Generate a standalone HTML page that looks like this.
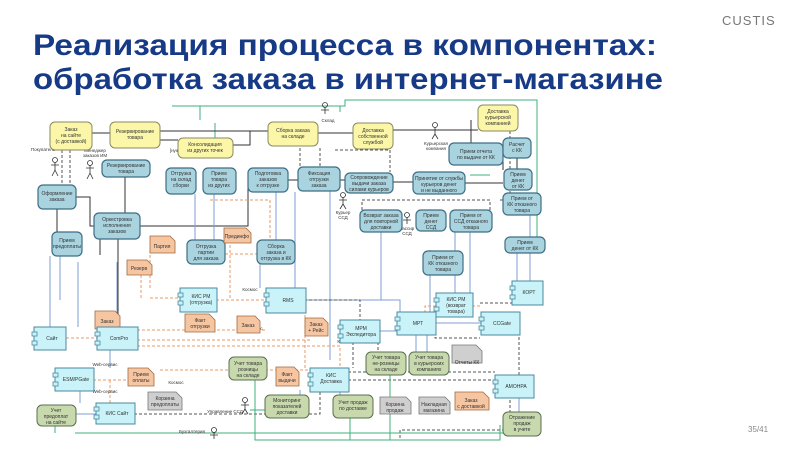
<!DOCTYPE html>
<html><head><meta charset="utf-8"><style>
html,body{margin:0;padding:0;background:#fff;width:800px;height:450px;overflow:hidden}
svg{display:block}
text{font-family:"Liberation Sans",sans-serif}
.t{font-size:5px;fill:#333;text-anchor:middle}
.y{fill:#fbf6a8;stroke:#8a8a60;stroke-width:1}
.b{fill:#a9d3df;stroke:#3f6f85;stroke-width:1.2}
.c{fill:#c9f3f8;stroke:#4a8aa0;stroke-width:1}
.g{fill:#c8d9ae;stroke:#5a7050;stroke-width:1}
.do{fill:#f6c6a2;stroke:#a06a40;stroke-width:.8}
.dg{fill:#cfcfcf;stroke:#777;stroke-width:.8}
.k{stroke:#333;stroke-width:1;fill:none}
.kd{stroke:#555;stroke-width:1;fill:none;stroke-dasharray:3 2}
.bl{stroke:#7f9fd6;stroke-width:1;fill:none}
.od{stroke:#ea9a66;stroke-width:1;fill:none;stroke-dasharray:3 2}
.gr{stroke:#3fb27a;stroke-width:1;fill:none}
</style></head><body>
<svg width="800" height="450" viewBox="0 0 800 450" xmlns="http://www.w3.org/2000/svg">
<text x="722" y="25" style="font-size:13px;fill:#777;letter-spacing:1px">CUSTIS</text>
<text x="33" y="55" textLength="624" lengthAdjust="spacingAndGlyphs" style="font-size:30px;font-weight:bold;fill:#173a86">Реализация процесса в компонентах:</text>
<text x="33" y="89" textLength="630" lengthAdjust="spacingAndGlyphs" style="font-size:30px;font-weight:bold;fill:#173a86">обработка заказа в интернет-магазине</text>
<text x="748" y="432" style="font-size:8px;fill:#888">35/41</text>

<!-- connectors -->
<g>
<path class="gr" d="M172 106 H345 V100 H537 V240"/>
<path class="gr" d="M200 120 V106 M340 112 V106 M215 123 V138"/>
<path class="k" d="M92 133 H110 M160 131 H268 M160 140 H178 M233 145 H250 V131 H268 M318 133 H353 M393 130 H478"/>
<path class="k" d="M76 197 H90 V226 H94 M140 226 H248 V180 M125 176 V213 M288 180 H298 M338 180 H345 M393 182 H413 M503 154 V170 M517 158 V170 M471 143 V120 M465 183 H503"/>
<path class="kd" d="M62 150 V185 M70 150 V200 M320 148 V173 M300 148 V190 M335 150 H390 V172 M500 200 H520 M510 131 V193 M362 210 V200 H490 V210"/>
<path class="k" d="M57 209 V232 M100 239 V255 M118 239 V330"/>
<path class="bl" d="M50 256 V327 M60 256 V300 M78 262 V327 M117 262 V327 M260 262 V288 M195 194 V240 M214 194 V240 M276 192 V240 M295 192 V288 M330 190 V360 M305 300 H400 V312 M378 331 H397 M435 323 H481 M416 334 V352 M427 334 V352 M381 232 V300 M455 232 V300 M470 232 V295 M517 253 V283 M530 215 V283 M110 350 V368 M80 390 V403 M75 414 H96 M519 397 V413 M340 390 V395 M300 390 V405 M430 250 V312"/>
<path class="od" d="M66 338 H97 M137 330 H266 M137 340 H310 M137 346 H340 V368 M150 250 V288 M141 270 V300 M230 240 V300 M210 200 H270 V240 M200 254 H257 M93 380 H128 M110 380 V403 M216 300 H266 M150 298 H180 M305 310 V368 M472 306 H481 M436 306 H425 V312 M160 370 H310"/>
<path class="kd" d="M134 414 H320 V390 M304 300 H360 V320 M348 380 H495 M348 372 H495 M435 322 V338 H480 M519 322 V375 M480 303 H512 M510 390 V430 H400 V440 M353 342 V368 M378 342 V360"/>
<path class="gr" d="M75 433 H520 V425 M55 425 V433 M255 380 V440 H500 V425 M390 374 V440 M350 417 V440 M265 410 H250 M470 175 H490"/>
</g>

<!-- actors -->
<g stroke="#333" fill="none" stroke-width=".8">
<circle cx="55" cy="160" r="2.5"/><path d="M55 162 V170 M51 165 H59 M55 170 L52 176 M55 170 L58 176"/>
<circle cx="90" cy="163" r="2.5"/><path d="M90 165 V173 M86 168 H94 M90 173 L87 179 M90 173 L93 179"/>
<circle cx="325" cy="105" r="2.5"/><path d="M325 107 V114 M321 110 H329"/>
<circle cx="435" cy="125" r="2.5"/><path d="M435 127 V134 M431 130 H439 M435 134 L432 139 M435 134 L438 139"/>
<circle cx="343" cy="195" r="2.5"/><path d="M343 197 V204 M339 200 H347 M343 204 L340 209 M343 204 L346 209"/>
<circle cx="407" cy="215" r="2.5"/><path d="M407 217 V224 M403 220 H411"/>
<circle cx="245" cy="400" r="2.5"/><path d="M245 402 V409 M241 405 H249 M245 409 L242 414 M245 409 L248 414"/>
<circle cx="214" cy="430" r="2.5"/><path d="M214 432 V439 M210 435 H218"/>
</g>
<g class="t" style="font-size:4.5px">
<text x="43" y="151">Покупатель</text><text x="95" y="152">Менеджер</text><text x="95" y="157">заказов ИМ</text>
<text x="200" y="152">[нужен товар из других мест]</text>
<text x="328" y="122">Склад</text><text x="436" y="145">Курьерская</text><text x="436" y="150">компания</text>
<text x="343" y="214">Курьер</text><text x="343" y="219">ССД</text><text x="407" y="230">Кассир</text><text x="407" y="235">ССД</text>
<text x="225" y="413">Управление ССД</text><text x="192" y="433">Бухгалтерия</text>
<text x="250" y="291">Космос</text><text x="255" y="330">Космос</text><text x="176" y="384">Космос</text><text x="105" y="366">Web-сервис</text><text x="105" y="393">Web-сервис</text><text x="345" y="343">Космос</text>
</g>

<!-- yellow -->
<rect class="y" x="50" y="122" width="42" height="28" rx="5"/><text class="t" x="71" y="131">Заказ<tspan x="71" dy="6">на сайте</tspan><tspan x="71" dy="6">(с доставкой)</tspan></text>
<rect class="y" x="110" y="122" width="50" height="26" rx="5"/><text class="t" x="135" y="133">Резервирование<tspan x="135" dy="6">товара</tspan></text>
<rect class="y" x="178" y="138" width="55" height="20" rx="5"/><text class="t" x="205" y="146">Консолидация<tspan x="205" dy="6">из других точек</tspan></text>
<rect class="y" x="268" y="122" width="50" height="24" rx="5"/><text class="t" x="293" y="132">Сборка заказа<tspan x="293" dy="6">на складе</tspan></text>
<rect class="y" x="353" y="123" width="40" height="26" rx="5"/><text class="t" x="373" y="132">Доставка<tspan x="373" dy="6">собственной</tspan><tspan x="373" dy="6">службой</tspan></text>
<rect class="y" x="478" y="105" width="40" height="26" rx="5"/><text class="t" x="498" y="113">Доставка<tspan x="498" dy="6">курьерской</tspan><tspan x="498" dy="6">компанией</tspan></text>

<!-- blue processes -->
<g>
<rect class="b" x="102" y="160" width="48" height="17" rx="5"/><text class="t" x="126" y="167">Резервирование<tspan x="126" dy="6">товара</tspan></text>
<rect class="b" x="38" y="185" width="38" height="24" rx="5"/><text class="t" x="57" y="195">Оформление<tspan x="57" dy="6">заказа</tspan></text>
<rect class="b" x="166" y="168" width="30" height="26" rx="5"/><text class="t" x="181" y="175">Отгрузка<tspan x="181" dy="6">на склад</tspan><tspan x="181" dy="6">сборки</tspan></text>
<rect class="b" x="203" y="168" width="33" height="26" rx="5"/><text class="t" x="219" y="175">Прием<tspan x="219" dy="6">товара</tspan><tspan x="219" dy="6">из других</tspan></text>
<rect class="b" x="248" y="168" width="40" height="24" rx="5"/><text class="t" x="268" y="175">Подготовка<tspan x="268" dy="6">заказов</tspan><tspan x="268" dy="6">к отгрузке</tspan></text>
<rect class="b" x="298" y="167" width="42" height="24" rx="5"/><text class="t" x="319" y="175">Фиксация<tspan x="319" dy="6">отгрузки</tspan><tspan x="319" dy="6">заказа</tspan></text>
<rect class="b" x="345" y="173" width="48" height="20" rx="5"/><text class="t" x="369" y="179">Сопровождение<tspan x="369" dy="6">выдачи заказа</tspan><tspan x="369" dy="6">силами курьеров</tspan></text>
<rect class="b" x="413" y="172" width="52" height="22" rx="5"/><text class="t" x="439" y="180">Принятие от службы<tspan x="439" dy="6">курьеров денег</tspan><tspan x="439" dy="6">и не выданного</tspan></text>
<rect class="b" x="449" y="143" width="54" height="22" rx="5"/><text class="t" x="476" y="153">Прием отчета<tspan x="476" dy="6">по выдаче от КК</tspan></text>
<rect class="b" x="503" y="138" width="28" height="20" rx="5"/><text class="t" x="517" y="146">Расчет<tspan x="517" dy="6">с КК</tspan></text>
<rect class="b" x="504" y="169" width="28" height="21" rx="5"/><text class="t" x="518" y="176">Прием<tspan x="518" dy="6">денег</tspan><tspan x="518" dy="6">от КК</tspan></text>
<rect class="b" x="503" y="193" width="38" height="22" rx="5"/><text class="t" x="522" y="200">Прием от<tspan x="522" dy="6">КК отказного</tspan><tspan x="522" dy="6">товара</tspan></text>
<rect class="b" x="94" y="213" width="46" height="26" rx="5"/><text class="t" x="117" y="221">Оркестровка<tspan x="117" dy="6">исполнения</tspan><tspan x="117" dy="6">заказов</tspan></text>
<rect class="b" x="52" y="232" width="30" height="24" rx="5"/><text class="t" x="67" y="242">Прием<tspan x="67" dy="6">предоплаты</tspan></text>
<rect class="b" x="360" y="210" width="42" height="22" rx="5"/><text class="t" x="381" y="217">Возврат заказа<tspan x="381" dy="6">для повторной</tspan><tspan x="381" dy="6">доставки</tspan></text>
<rect class="b" x="416" y="210" width="30" height="21" rx="5"/><text class="t" x="431" y="217">Прием<tspan x="431" dy="6">денег</tspan><tspan x="431" dy="6">ССД</tspan></text>
<rect class="b" x="450" y="210" width="42" height="22" rx="5"/><text class="t" x="471" y="217">Прием от<tspan x="471" dy="6">ССД отказного</tspan><tspan x="471" dy="6">товара</tspan></text>
<rect class="b" x="187" y="240" width="38" height="24" rx="5"/><text class="t" x="206" y="248">Отгрузка<tspan x="206" dy="6">партии</tspan><tspan x="206" dy="6">для заказа</tspan></text>
<rect class="b" x="257" y="240" width="38" height="24" rx="5"/><text class="t" x="276" y="248">Сборка<tspan x="276" dy="6">заказа и</tspan><tspan x="276" dy="6">отгрузка в КК</tspan></text>
<rect class="b" x="505" y="237" width="40" height="16" rx="5"/><text class="t" x="525" y="244">Прием<tspan x="525" dy="6">денег от КК</tspan></text>
<rect class="b" x="423" y="251" width="40" height="24" rx="5"/><text class="t" x="443" y="259">Прием от<tspan x="443" dy="6">КК отказного</tspan><tspan x="443" dy="6">товара</tspan></text>
</g>

<!-- documents -->
<g>
<path class="do" d="M150 236 h20 l5 5 v12 h-25z"/><text class="t" x="162" y="248">Партия</text>
<path class="do" d="M127 260 h20 l5 5 v10 h-25z"/><text class="t" x="139" y="270">Резерв</text>
<path class="do" d="M224 228 h22 l5 5 v10 h-27z"/><text class="t" x="237" y="238">Прединфо</text>
<path class="do" d="M95 311 h20 l5 5 v13 h-25z"/><text class="t" x="107" y="323">Заказ</text>
<path class="do" d="M185 314 h24 l6 6 v12 h-30z"/><text class="t" x="200" y="322">Факт<tspan x="200" dy="6">отгрузки</tspan></text>
<path class="do" d="M237 316 h18 l5 5 v12 h-23z"/><text class="t" x="248" y="327">Заказ</text>
<path class="do" d="M305 318 h18 l5 5 v13 h-23z"/><text class="t" x="316" y="326">Заказ<tspan x="316" dy="6">+ Рейс</tspan></text>
<path class="do" d="M276 367 h18 l5 5 v14 h-23z"/><text class="t" x="287" y="376">Факт<tspan x="287" dy="6">выдачи</tspan></text>
<path class="do" d="M128 368 h20 l6 6 v12 h-26z"/><text class="t" x="141" y="376">Прием<tspan x="141" dy="6">оплаты</tspan></text>
<path class="do" d="M455 392 h28 l6 6 v12 h-34z"/><text class="t" x="471" y="402">Заказ<tspan x="471" dy="6">с доставкой</tspan></text>
<path class="dg" d="M148 392 h28 l6 6 v12 h-34z"/><text class="t" x="165" y="400">Корзина<tspan x="165" dy="6">предоплаты</tspan></text>
<path class="dg" d="M380 397 h26 l5 5 v12 h-31z"/><text class="t" x="395" y="406">Корзина<tspan x="395" dy="6">продаж</tspan></text>
<path class="dg" d="M419 397 h26 l5 5 v12 h-31z"/><text class="t" x="434" y="406">Накладная<tspan x="434" dy="6">магазина</tspan></text>
<path class="dg" d="M452 345 h24 l6 6 v12 h-30z"/><text class="t" x="467" y="364">Отчеты КК</text>
</g>

<!-- components -->
<g>
<rect class="c" x="180" y="288" width="37" height="24"/><text class="t" x="201" y="298">КИС РМ<tspan x="201" dy="6">(отгрузка)</tspan></text>
<rect class="c" x="266" y="288" width="40" height="25"/><text class="t" x="288" y="302">RMS</text>
<rect class="c" x="34" y="327" width="32" height="23"/><text class="t" x="52" y="340">Сайт</text>
<rect class="c" x="97" y="327" width="41" height="23"/><text class="t" x="119" y="340">ComPro</text>
<rect class="c" x="55" y="368" width="39" height="23"/><text class="t" x="76" y="381">ESM/PGate</text>
<rect class="c" x="96" y="403" width="39" height="21"/><text class="t" x="117" y="415">КИС Сайт</text>
<rect class="c" x="340" y="320" width="40" height="23"/><text class="t" x="361" y="330">МРМ<tspan x="361" dy="6">Экспедитора</tspan></text>
<rect class="c" x="397" y="312" width="39" height="23"/><text class="t" x="418" y="325">МРТ</text>
<rect class="c" x="436" y="293" width="37" height="24"/><text class="t" x="456" y="301">КИС РМ<tspan x="456" dy="6">(возврат</tspan><tspan x="456" dy="6">товара)</tspan></text>
<rect class="c" x="481" y="312" width="39" height="23"/><text class="t" x="502" y="325">CCGate</text>
<rect class="c" x="512" y="281" width="31" height="24"/><text class="t" x="529" y="294">КОРТ</text>
<rect class="c" x="310" y="368" width="39" height="24"/><text class="t" x="331" y="377">КИС<tspan x="331" dy="6">Доставка</tspan></text>
<rect class="c" x="495" y="375" width="39" height="23"/><text class="t" x="516" y="388">АМОНРА</text>
</g>
<g fill="#c9f3f8" stroke="#4a8aa0" stroke-width=".8">
<rect x="178" y="293" width="5" height="4"/><rect x="178" y="301" width="5" height="4"/>
<rect x="264" y="293" width="5" height="4"/><rect x="264" y="302" width="5" height="4"/>
<rect x="32" y="332" width="5" height="4"/><rect x="32" y="341" width="5" height="4"/>
<rect x="95" y="332" width="5" height="4"/><rect x="95" y="341" width="5" height="4"/>
<rect x="53" y="373" width="5" height="4"/><rect x="53" y="382" width="5" height="4"/>
<rect x="94" y="407" width="5" height="4"/><rect x="94" y="415" width="5" height="4"/>
<rect x="338" y="325" width="5" height="4"/><rect x="338" y="334" width="5" height="4"/>
<rect x="395" y="317" width="5" height="4"/><rect x="395" y="326" width="5" height="4"/>
<rect x="434" y="298" width="5" height="4"/><rect x="434" y="307" width="5" height="4"/>
<rect x="479" y="317" width="5" height="4"/><rect x="479" y="326" width="5" height="4"/>
<rect x="510" y="286" width="5" height="4"/><rect x="510" y="295" width="5" height="4"/>
<rect x="308" y="373" width="5" height="4"/><rect x="308" y="382" width="5" height="4"/>
<rect x="493" y="380" width="5" height="4"/><rect x="493" y="389" width="5" height="4"/>
</g>

<!-- green -->
<g>
<rect class="g" x="229" y="357" width="38" height="23" rx="5"/><text class="t" x="248" y="365">Учет товара<tspan x="248" dy="6">розницы</tspan><tspan x="248" dy="6">на складе</tspan></text>
<rect class="g" x="37" y="405" width="39" height="21" rx="5"/><text class="t" x="56" y="412">Учет<tspan x="56" dy="6">предоплат</tspan><tspan x="56" dy="6">на сайте</tspan></text>
<rect class="g" x="265" y="395" width="44" height="23" rx="5"/><text class="t" x="287" y="402">Мониторинг<tspan x="287" dy="6">показателей</tspan><tspan x="287" dy="6">доставки</tspan></text>
<rect class="g" x="333" y="395" width="40" height="23" rx="5"/><text class="t" x="353" y="404">Учет продаж<tspan x="353" dy="6">по доставке</tspan></text>
<rect class="g" x="366" y="352" width="40" height="23" rx="5"/><text class="t" x="386" y="359">Учет товара<tspan x="386" dy="6">не-розницы</tspan><tspan x="386" dy="6">на складе</tspan></text>
<rect class="g" x="409" y="352" width="40" height="23" rx="5"/><text class="t" x="429" y="359">Учет товара<tspan x="429" dy="6">в курьерских</tspan><tspan x="429" dy="6">компаниях</tspan></text>
<rect class="g" x="503" y="412" width="38" height="24" rx="5"/><text class="t" x="522" y="419">Отражение<tspan x="522" dy="6">продаж</tspan><tspan x="522" dy="6">в учете</tspan></text>
</g>
</svg>
</body></html>
